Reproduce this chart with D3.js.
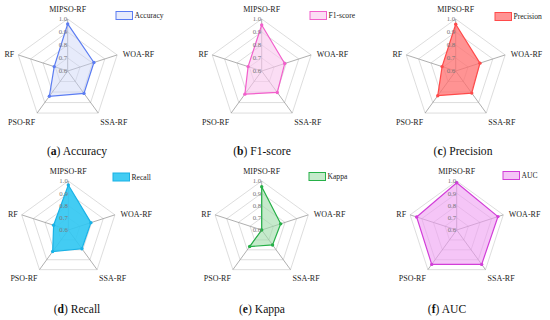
<!DOCTYPE html>
<html>
<head>
<meta charset="utf-8">
<style>
  body { margin: 0; background: #fff; }
</style>
</head>
<body>
<svg id="chart" width="550" height="320" font-family="'Liberation Serif', 'Times New Roman', serif"></svg>
<script src="https://cdn.jsdelivr.net/npm/d3@7"></script>
<script>
// axes (clockwise from top)
var models = ["MIPSO-RF", "WOA-RF", "SSA-RF", "PSO-RF", "RF"];
var ticks = [0.6, 0.7, 0.8, 0.9, 1.0];

// metric values per model, same order as models
var accuracy  = [0.962, 0.812, 0.813, 0.840, 0.709];
var f1score   = [0.954, 0.786, 0.804, 0.820, 0.710];
var precision = [0.960, 0.796, 0.810, 0.835, 0.710];
var recall    = [0.967, 0.794, 0.789, 0.817, 0.726];
var kappa     = [0.953, 0.763, 0.751, 0.767, 0.600];
var auc       = [0.986, 0.954, 0.947, 0.947, 0.944];

var metricNames = ["Accuracy", "F1-score", "Precision", "Recall", "Kappa", "AUC"];
var letters = ["a", "b", "c", "d", "e", "f"];
var values = [accuracy, f1score, precision, recall, kappa, auc];

// look of each panel
var panels = [
  {cx: 67.7,  cy: 71,  R: 52, stroke: "#5b7cf2", fill: "#c9d3f7", op: 0.45, capX: 77,  capY: 155, legX: 116, legY: 11.5},
  {cx: 261.7, cy: 71,  R: 52, stroke: "#f25fcb", fill: "#f9c6ec", op: 0.6,  capX: 262, capY: 155, legX: 310, legY: 11.5},
  {cx: 455.7, cy: 71,  R: 52, stroke: "#ff4a4a", fill: "#ff6f6f", op: 0.75, capX: 463, capY: 155, legX: 495, legY: 12.5},
  {cx: 68.3,  cy: 230, R: 49, stroke: "#19b2e6", fill: "#2fc6f2", op: 0.9,  capX: 77,  capY: 313, legX: 113, legY: 173},
  {cx: 261.7, cy: 230, R: 49, stroke: "#26b048", fill: "#9edca8", op: 0.6,  capX: 262, capY: 313, legX: 309, legY: 172.5},
  {cx: 456.7, cy: 230, R: 49, stroke: "#d23ed8", fill: "#ee9ef1", op: 0.6,  capX: 447, capY: 313, legX: 503, legY: 171.5}
];

var svg = d3.select("#chart");
var n = models.length;
var angle = function(i) { return i * 2 * Math.PI / n; };

panels.forEach(function(p, k) {
  var r = d3.scaleLinear().domain([0.6, 1.0]).range([0, p.R]);
  var g = svg.append("g").attr("transform", "translate(" + p.cx + "," + p.cy + ")");

  var ring = d3.lineRadial()
    .angle(function(d, i) { return angle(i); })
    .radius(function(d) { return r(d); })
    .curve(d3.curveLinearClosed);

  // grid rings
  ticks.slice(1).forEach(function(t) {
    g.append("path")
      .attr("d", ring(models.map(function() { return t; })))
      .attr("fill", "none")
      .attr("stroke", "#d4d4d4")
      .attr("stroke-width", 0.8);
  });

  // spokes
  models.forEach(function(m, i) {
    var a = angle(i);
    g.append("line")
      .attr("x1", 0).attr("y1", 0)
      .attr("x2", Math.sin(a) * r(1.0))
      .attr("y2", -Math.cos(a) * r(1.0))
      .attr("stroke", "#9a9a9a")
      .attr("stroke-width", 0.8);
  });

  // data polygon
  var vals = values[k];
  g.append("path")
    .attr("d", ring(vals))
    .attr("fill", p.fill)
    .attr("fill-opacity", p.op)
    .attr("stroke", p.stroke)
    .attr("stroke-width", 1.2);

  g.selectAll("circle.pt")
    .data(vals)
    .enter().append("circle")
    .attr("class", "pt")
    .attr("cx", function(d, i) { return Math.sin(angle(i)) * r(d); })
    .attr("cy", function(d, i) { return -Math.cos(angle(i)) * r(d); })
    .attr("r", 1.7)
    .attr("fill", p.stroke);

  // tick labels along the top spoke
  g.selectAll("text.tick")
    .data(ticks)
    .enter().append("text")
    .attr("class", "tick")
    .attr("x", -0.5)
    .attr("y", function(d) { return -r(d) + 2.3; })
    .attr("text-anchor", "end")
    .attr("font-size", 6.8)
    .attr("fill", "#777")
    .text(function(d) { return d.toFixed(1); });

  // axis labels
  var offs = [
    {dx: 0, dy: -7, anchor: "middle"},
    {dx: 5.5, dy: 2, anchor: "start"},
    {dx: 2, dy: 11.5, anchor: "start"},
    {dx: -2, dy: 11.5, anchor: "end"},
    {dx: -4, dy: 2, anchor: "end"}
  ];
  models.forEach(function(m, i) {
    var a = angle(i);
    g.append("text")
      .attr("x", Math.sin(a) * r(1.0) + offs[i].dx)
      .attr("y", -Math.cos(a) * r(1.0) + offs[i].dy)
      .attr("text-anchor", offs[i].anchor)
      .attr("font-size", 8)
      .attr("fill", "#222")
      .text(m);
  });

  // legend
  svg.append("rect")
    .attr("x", p.legX).attr("y", p.legY)
    .attr("width", 16.5).attr("height", 8)
    .attr("fill", p.fill).attr("fill-opacity", p.op)
    .attr("stroke", p.stroke).attr("stroke-width", 1);
  svg.append("text")
    .attr("x", p.legX + 18.5).attr("y", p.legY + 6.8)
    .attr("font-size", 7.6)
    .attr("fill", "#222")
    .text(metricNames[k]);

  // caption
  var cap = svg.append("text")
    .attr("x", p.capX).attr("y", p.capY)
    .attr("text-anchor", "middle")
    .attr("font-size", 11.6)
    .attr("fill", "#111");
  cap.append("tspan").text("(");
  cap.append("tspan").attr("font-weight", "bold").text(letters[k]);
  cap.append("tspan").text(") " + metricNames[k]);
});
</script>
</body>
</html>
